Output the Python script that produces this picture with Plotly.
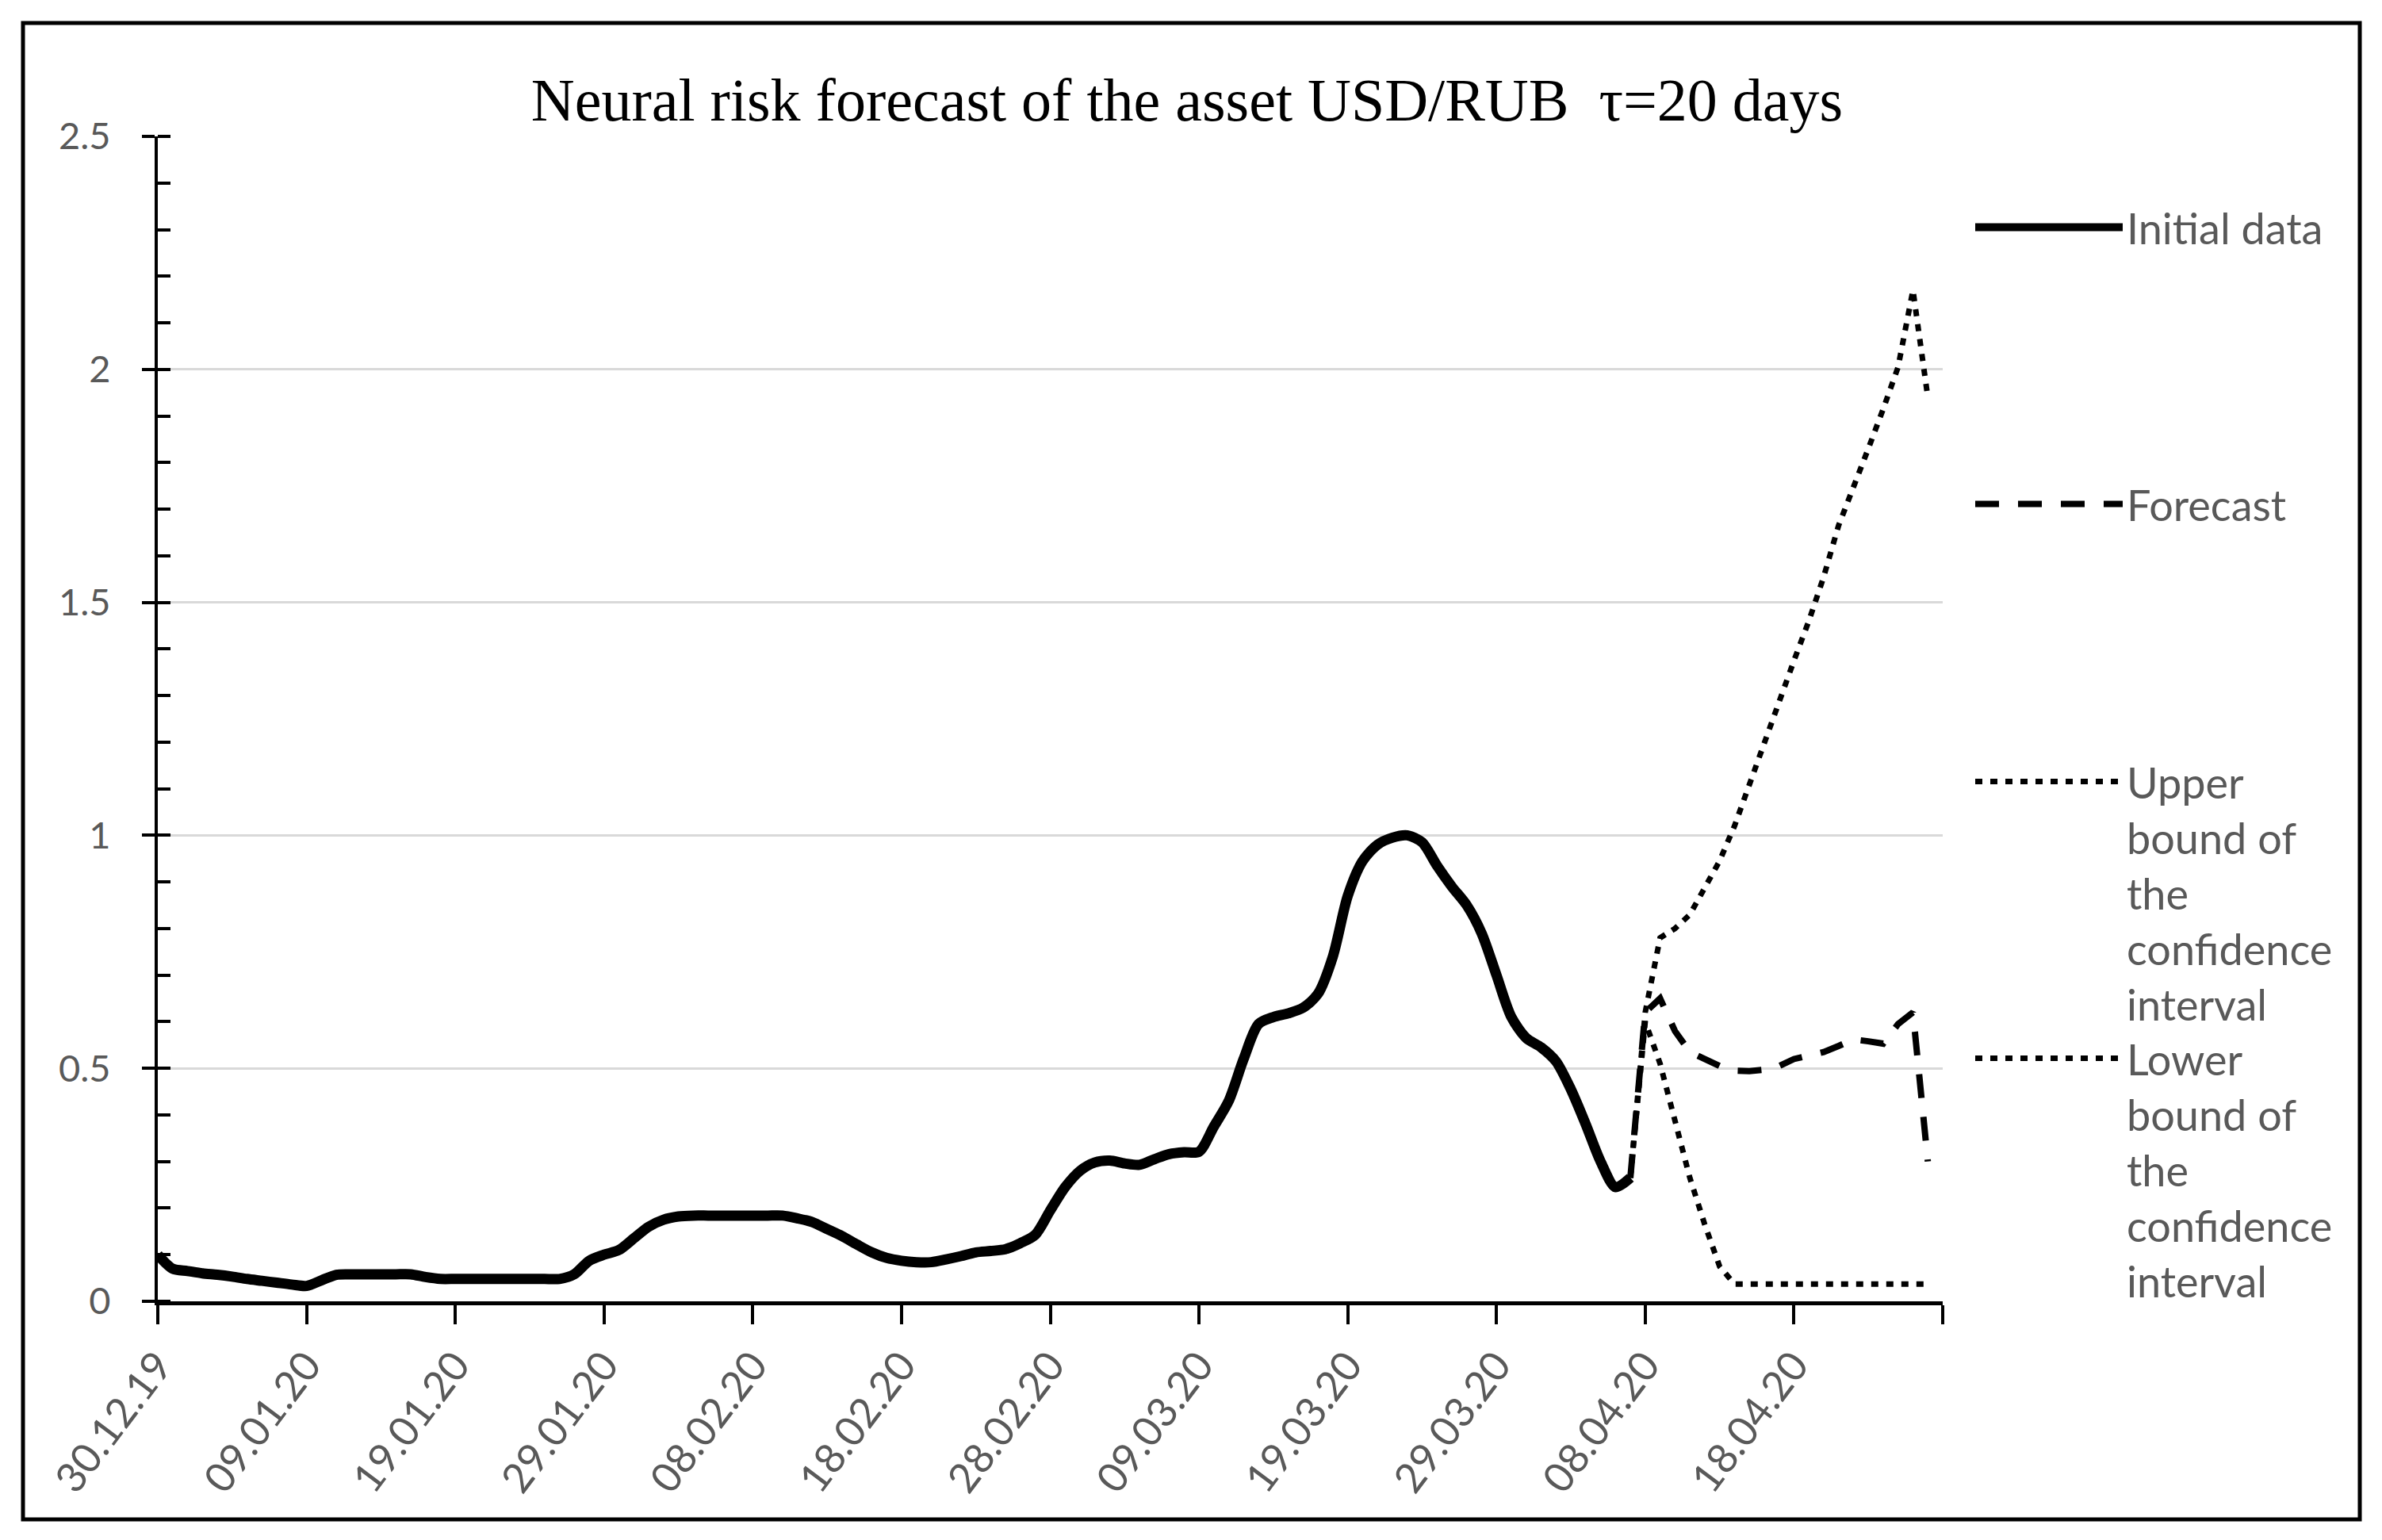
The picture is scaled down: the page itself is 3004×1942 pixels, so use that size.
import plotly.graph_objects as go
import pandas as pd

# ---------------- data ----------------
title_text = "Neural risk forecast of the asset USD/RUB  \u03c4=20 days"
start_date = "2019-12-30"

# daily values, 30.12.19 .. 07.04.20
initial_data = [0.10, 0.07, 0.065, 0.06, 0.057, 0.053, 0.048, 0.044, 0.04, 0.036,
                0.033, 0.045, 0.057, 0.058, 0.058, 0.058, 0.058, 0.058, 0.052, 0.048,
                0.048, 0.048, 0.048, 0.048, 0.048, 0.048, 0.048, 0.048, 0.058, 0.087,
                0.10, 0.11, 0.135, 0.16, 0.175, 0.182, 0.184, 0.184, 0.184, 0.184,
                0.184, 0.184, 0.184, 0.178, 0.17, 0.155, 0.14, 0.122, 0.105, 0.093,
                0.087, 0.084, 0.084, 0.09, 0.097, 0.105, 0.108, 0.112, 0.125, 0.143,
                0.195, 0.245, 0.28, 0.298, 0.302, 0.296, 0.293, 0.305, 0.316, 0.32,
                0.321, 0.375, 0.43, 0.52, 0.595, 0.61, 0.618, 0.63, 0.66, 0.74,
                0.87, 0.945, 0.98, 0.995, 1.0, 0.985, 0.935, 0.89, 0.85, 0.79,
                0.70, 0.61, 0.565, 0.545, 0.515, 0.455, 0.38, 0.30, 0.245, 0.265]

# daily values, 07.04.20 .. 27.04.20
forecast_start = "2020-04-07"
forecast = [0.265, 0.62, 0.65, 0.58, 0.535, 0.52, 0.505, 0.495, 0.494, 0.497,
            0.505, 0.52, 0.527, 0.535, 0.548, 0.562, 0.558, 0.553, 0.595, 0.62, 0.30]
upper_bound = [0.265, 0.62, 0.78, 0.80, 0.83, 0.89, 0.945, 1.02, 1.11, 1.20,
               1.285, 1.375, 1.46, 1.555, 1.665, 1.745, 1.83, 1.915, 2.005, 2.17, 1.94]
lower_bound = [0.265, 0.60, 0.51, 0.39, 0.265, 0.165, 0.075, 0.037, 0.037, 0.037,
               0.037, 0.037, 0.037, 0.037, 0.037, 0.037, 0.037, 0.037, 0.037, 0.037, 0.037]

x_tick_labels = ["30.12.19", "09.01.20", "19.01.20", "29.01.20", "08.02.20", "18.02.20",
                 "28.02.20", "09.03.20", "19.03.20", "29.03.20", "08.04.20", "18.04.20", ""]
y_tick_values = [0, 0.5, 1, 1.5, 2, 2.5]

legend_names = ["Initial data", "Forecast",
                "Upper<br>bound of<br>the<br>confidence<br>interval",
                "Lower<br>bound of<br>the<br>confidence<br>interval"]

# ---------------- derived ----------------
initial_dates = pd.date_range(start_date, periods=len(initial_data), freq="D")
forecast_dates = pd.date_range(forecast_start, periods=len(forecast), freq="D")
tick_dates = pd.date_range(start_date, periods=len(x_tick_labels), freq="10D")
x_range = [tick_dates[0], tick_dates[-1]]

# ---------------- geometry ----------------
W, H = 2988, 1926
L, R, T, B = 191, 546, 164, 293
PW = W - L - R
PH = H - T - B


def px(X):
    return (X - 8 - L) / PW


def py(Y):
    return (1641 - Y) / PH


GRAY = "#595959"
Y_FONT = dict(family="Lato", size=47, color=GRAY)
X_FONT = dict(family="Lato", size=52, color=GRAY)
LEG_FONT = dict(family="Lato", size=54, color=GRAY)

fig = go.Figure()
fig.add_trace(go.Scatter(x=initial_dates, y=initial_data, mode="lines",
                         name=legend_names[0], legend="legend",
                         line=dict(color="black", width=13, shape="spline", smoothing=0.8)))
fig.add_trace(go.Scatter(x=forecast_dates, y=forecast, mode="lines",
                         name=legend_names[1], legend="legend2",
                         line=dict(color="black", width=8, dash="30px,24px")))
fig.add_trace(go.Scatter(x=forecast_dates, y=upper_bound, mode="lines",
                         name=legend_names[2], legend="legend3",
                         line=dict(color="black", width=7, dash="9px,10px")))
fig.add_trace(go.Scatter(x=forecast_dates, y=lower_bound, mode="lines",
                         name=legend_names[3], legend="legend4",
                         line=dict(color="black", width=7, dash="9px,10px")))


def leg(y, anchor="middle"):
    return dict(x=px(2486), y=py(y), xanchor="left", yanchor=anchor,
                font=LEG_FONT, bgcolor="rgba(0,0,0,0)", itemwidth=186,
                valign="top", borderwidth=0, visible=True)


fig.update_layout(
    width=W, height=H,
    showlegend=True,
    margin=dict(l=L, r=R, t=T, b=B, pad=0),
    paper_bgcolor="white", plot_bgcolor="white",
    title=dict(text=title_text, x=(1497 - 8) / W, xref="container", xanchor="center",
               y=1 - (125 - 8) / H, yref="container", yanchor="middle",
               font=dict(family="Liberation Serif", size=76, color="black")),
    legend=leg(287), legend2=leg(636), legend3=leg(1126), legend4=leg(1475),
    xaxis=dict(type="date", range=x_range, tickmode="array", tickvals=tick_dates,
               ticktext=x_tick_labels, tickangle=-53, tickfont=X_FONT,
               ticks="outside", ticklen=24, tickwidth=4, tickcolor="black",
               showline=True, linewidth=5, linecolor="black",
               showgrid=False, zeroline=False),
    xaxis2=dict(type="date", overlaying="x", matches="x", anchor="y", side="bottom",
                tickmode="array", tickvals=tick_dates, showticklabels=False,
                ticks="inside", ticklen=20, tickwidth=4, tickcolor="black",
                showline=False, showgrid=False, zeroline=False),
    yaxis=dict(range=[0, 2.5], tickmode="array", tickvals=y_tick_values,
               ticktext=[f"{v:g}" for v in y_tick_values], tickfont=Y_FONT,
               ticks="outside", ticklen=16, tickwidth=4, tickcolor="black",
               ticklabelstandoff=30,
               minor=dict(ticks="inside", dtick=0.1, ticklen=16, tickwidth=4,
                          tickcolor="black", showgrid=False),
               showline=True, linewidth=4, linecolor="black",
               showgrid=True, gridcolor="#d9d9d9", gridwidth=3, zeroline=False),
    yaxis2=dict(overlaying="y", matches="y", anchor="x", side="left",
                tickmode="array", tickvals=y_tick_values, showticklabels=False,
                ticks="inside", ticklen=16, tickwidth=4, tickcolor="black",
                showline=False, showgrid=False, zeroline=False),
    shapes=[dict(type="rect", xref="paper", yref="paper",
                 x0=px(29), x1=px(2976), y0=py(1916), y1=py(29),
                 line=dict(color="black", width=5), fillcolor="rgba(0,0,0,0)",
                 layer="above")],
)

fig.write_html("out.html")
